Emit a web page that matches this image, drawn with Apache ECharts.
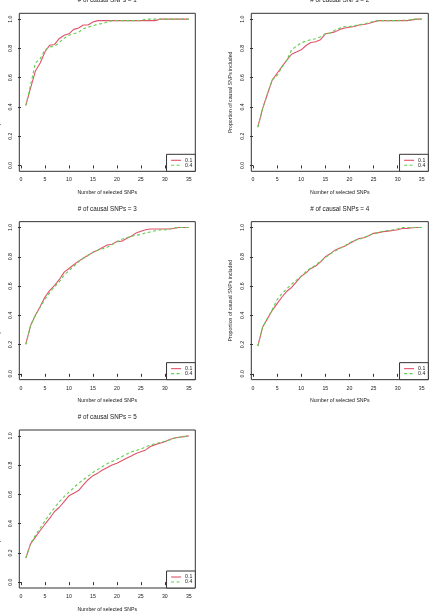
<!DOCTYPE html>
<html>
<head>
<meta charset="utf-8">
<script src="https://cdn.jsdelivr.net/npm/echarts@6/dist/echarts.min.js"></script>
<style>
  html, body { margin: 0; padding: 0; background: #fff; }
  #chart { width: 430px; height: 616px; }
</style>
</head>
<body>
<div id="chart"></div>
<script>
// x = number of selected SNPs (1..35)
const steps = Array.from({ length: 35 }, (_, i) => i + 1);
const xTicks = [0, 5, 10, 15, 20, 25, 30, 35];
const yTicks = [0, 0.2, 0.4, 0.6, 0.8, 1.0];
const titles = [
  "# of causal SNPs = 1",
  "# of causal SNPs = 2",
  "# of causal SNPs = 3",
  "# of causal SNPs = 4",
  "# of causal SNPs = 5"
];
const seriesNames = ["0.1", "0.4"];

// proportion of causal SNPs included, threshold 0.1 (red) / 0.4 (green)
const causal1_01 = [0.41, 0.53, 0.645, 0.70, 0.777, 0.822, 0.827, 0.868, 0.89, 0.90, 0.93, 0.94, 0.96, 0.96, 0.98, 0.99, 0.99, 0.99, 0.99, 0.99, 0.99, 0.99, 0.99, 0.99, 0.99, 0.99, 0.99, 0.99, 1.0, 1.0, 1.0, 1.0, 1.0, 1.0, 1.0];
const causal1_04 = [0.41, 0.55, 0.70, 0.73, 0.79, 0.81, 0.815, 0.84, 0.87, 0.89, 0.90, 0.91, 0.935, 0.945, 0.955, 0.965, 0.97, 0.98, 0.99, 0.99, 0.99, 0.99, 0.99, 0.99, 0.99, 1.0, 1.0, 1.0, 1.0, 1.0, 1.0, 1.0, 1.0, 1.0, 1.0];

const causal2_01 = [0.263, 0.39, 0.49, 0.585, 0.63, 0.675, 0.72, 0.76, 0.775, 0.79, 0.82, 0.84, 0.845, 0.86, 0.90, 0.905, 0.913, 0.93, 0.94, 0.945, 0.95, 0.96, 0.963, 0.97, 0.98, 0.99, 0.99, 0.99, 0.99, 0.99, 0.99, 0.99, 0.995, 1.0, 1.0];
const causal2_04 = [0.26, 0.39, 0.49, 0.585, 0.615, 0.67, 0.72, 0.79, 0.815, 0.838, 0.85, 0.86, 0.866, 0.88, 0.90, 0.905, 0.925, 0.94, 0.948, 0.95, 0.955, 0.963, 0.966, 0.975, 0.985, 0.99, 0.99, 0.99, 0.99, 0.99, 0.995, 0.99, 1.0, 1.0, 1.0];

const causal3_01 = [0.205, 0.33, 0.40, 0.46, 0.525, 0.57, 0.605, 0.645, 0.695, 0.72, 0.745, 0.77, 0.79, 0.81, 0.83, 0.845, 0.863, 0.88, 0.885, 0.905, 0.906, 0.925, 0.94, 0.963, 0.975, 0.985, 0.99, 0.99, 0.99, 0.99, 0.99, 0.995, 1.0, 1.0, 1.0];
const causal3_04 = [0.20, 0.33, 0.40, 0.455, 0.51, 0.555, 0.595, 0.63, 0.675, 0.705, 0.735, 0.765, 0.79, 0.81, 0.83, 0.845, 0.855, 0.865, 0.883, 0.90, 0.92, 0.93, 0.94, 0.947, 0.952, 0.963, 0.97, 0.978, 0.983, 0.983, 0.99, 1.0, 1.0, 1.0, 1.0];

const causal4_01 = [0.19, 0.32, 0.377, 0.434, 0.48, 0.525, 0.564, 0.59, 0.628, 0.667, 0.69, 0.72, 0.737, 0.765, 0.80, 0.82, 0.845, 0.86, 0.872, 0.89, 0.91, 0.925, 0.93, 0.943, 0.96, 0.965, 0.972, 0.975, 0.98, 0.985, 0.993, 0.993, 0.998, 1.0, 1.0];
const causal4_04 = [0.19, 0.32, 0.38, 0.44, 0.507, 0.548, 0.582, 0.612, 0.64, 0.667, 0.70, 0.724, 0.742, 0.77, 0.795, 0.818, 0.84, 0.856, 0.874, 0.895, 0.91, 0.92, 0.93, 0.947, 0.958, 0.965, 0.975, 0.98, 0.985, 0.992, 1.0, 1.0, 1.0, 1.0, 1.0];

const causal5_01 = [0.165, 0.262, 0.308, 0.353, 0.396, 0.437, 0.483, 0.512, 0.55, 0.59, 0.608, 0.626, 0.665, 0.70, 0.728, 0.745, 0.767, 0.783, 0.80, 0.813, 0.83, 0.847, 0.863, 0.88, 0.892, 0.904, 0.927, 0.94, 0.95, 0.96, 0.975, 0.985, 0.99, 0.995, 1.0];
const causal5_04 = [0.165, 0.265, 0.32, 0.37, 0.42, 0.465, 0.51, 0.55, 0.585, 0.615, 0.645, 0.675, 0.70, 0.725, 0.75, 0.77, 0.79, 0.81, 0.825, 0.84, 0.857, 0.875, 0.89, 0.90, 0.91, 0.925, 0.937, 0.947, 0.955, 0.963, 0.972, 0.983, 0.99, 0.995, 1.0];

const panels = [
  [causal1_01, causal1_04],
  [causal2_01, causal2_04],
  [causal3_01, causal3_04],
  [causal4_01, causal4_04],
  [causal5_01, causal5_04]
];

const RED = "#DF536B";
const GREEN = "#61D04F";
const FONT = "Liberation Sans";
const TEXT = "#1a1a1a";
const AXIS = "#333";

const boxLeft = [19.3, 251.3];
const boxWidth = [176, 177];
const boxH = 158;
const rowTop = r => 13.3 + r * 208.35;

const grid = [], xAxis = [], yAxis = [], series = [], legend = [], graphic = [];

panels.forEach((pair, i) => {
  const col = i % 2, row = Math.floor(i / 2);
  const left = boxLeft[col], top = rowTop(row), w = boxWidth[col];

  grid.push({
    left: left, top: top, width: w, height: boxH,
    show: true, borderColor: AXIS, borderWidth: 1, backgroundColor: "transparent"
  });

  xAxis.push({
    type: "value", gridIndex: i, min: -0.36, max: 36.36,
    axisLine: { show: false },
    splitLine: { show: false },
    axisTick: { show: true, length: 3, customValues: xTicks, lineStyle: { color: AXIS } },
    axisLabel: { customValues: xTicks, margin: 6, fontSize: 5.2, color: TEXT, fontFamily: FONT }
  });

  yAxis.push({
    type: "value", gridIndex: i, min: -0.04, max: 1.04,
    axisLine: { show: false },
    splitLine: { show: false },
    axisTick: { show: true, length: 3, customValues: yTicks, lineStyle: { color: AXIS } },
    axisLabel: {
      customValues: yTicks, rotate: 90, margin: 6.5, fontSize: 5.2, color: TEXT, fontFamily: FONT,
      formatter: v => v.toFixed(1)
    }
  });

  pair.forEach((vals, k) => {
    series.push({
      name: seriesNames[k],
      type: "line",
      xAxisIndex: i, yAxisIndex: i,
      symbol: "none",
      silent: true,
      data: steps.map((x, j) => [x, vals[j]]),
      lineStyle: k === 0
        ? { color: RED, width: 1.1 }
        : { color: GREEN, width: 1.1, type: [3, 2.5] },
      itemStyle: { color: k === 0 ? RED : GREEN }
    });
  });

  legend.push({
    data: seriesNames,
    orient: "vertical",
    right: 430 - (left + w),
    bottom: 616 - (top + boxH),
    itemWidth: 10, itemHeight: 4, itemGap: 0,
    padding: [3.5, 3, 3.5, 4],
    backgroundColor: "#fff",
    borderColor: AXIS, borderWidth: 1, borderRadius: 0,
    selectedMode: false,
    itemStyle: { opacity: 0 },
    lineStyle: { width: 1.1 },
    textStyle: { fontSize: 5.2, color: TEXT, fontFamily: FONT, padding: [0, 0, 0, -1] }
  });

  // panel title
  graphic.push({
    type: "text",
    x: left + w / 2, y: top - 12.7,
    style: { text: titles[i], fontSize: 6.3, fontFamily: FONT, fill: TEXT, align: "center", verticalAlign: "middle" }
  });
  // x axis title
  graphic.push({
    type: "text",
    x: left + w / 2, y: top + boxH + 21.4,
    style: { text: "Number of selected SNPs", fontSize: 5.2, fontFamily: FONT, fill: TEXT, align: "center", verticalAlign: "middle" }
  });
  // y axis title
  graphic.push({
    type: "text",
    x: left - 21, y: top + boxH / 2,
    rotation: Math.PI / 2,
    style: { text: "Proportion of causal SNPs included", fontSize: 5.2, fontFamily: FONT, fill: TEXT, align: "center", verticalAlign: "middle" }
  });
});

const myChart = echarts.init(document.getElementById("chart"), null, { renderer: "canvas" });
myChart.setOption({
  backgroundColor: "#fff",
  animation: false,
  grid, xAxis, yAxis, series, legend, graphic
});
</script>
</body>
</html>
